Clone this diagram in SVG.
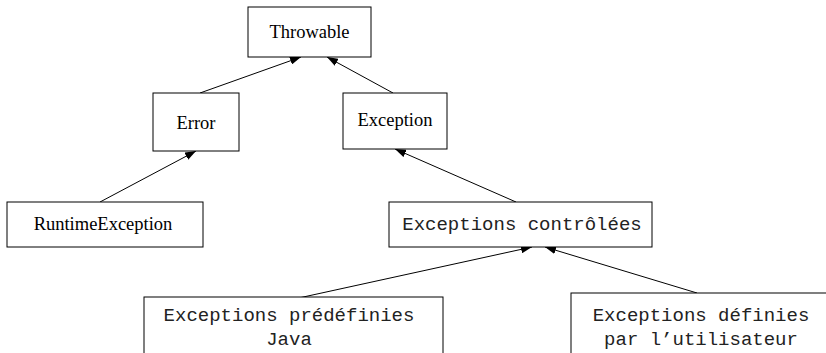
<svg xmlns="http://www.w3.org/2000/svg" width="826" height="353" viewBox="0 0 826 353">
<defs>
<marker id="arr" markerWidth="11" markerHeight="8" refX="11" refY="4" orient="auto" markerUnits="userSpaceOnUse">
<path d="M0,0 L11,4 L0,8 Z" fill="#000"/>
</marker>
<style>
.box{fill:#fff;stroke:#000;stroke-width:1}
.serif{font-family:"Liberation Serif","Times New Roman",serif;font-size:18.5px;fill:#000;text-anchor:middle}
.mono{font-family:"Liberation Mono","Courier New",monospace;font-size:19px;fill:#222;text-anchor:middle}
.edge{stroke:#000;stroke-width:1;fill:none;marker-end:url(#arr)}
</style>
</defs>
<rect width="826" height="353" fill="#fff"/>
<g id="edges">
<line class="edge" x1="200" y1="93" x2="301" y2="57"/>
<line class="edge" x1="393" y1="93" x2="327" y2="57"/>
<line class="edge" x1="100" y1="202" x2="196" y2="151"/>
<line class="edge" x1="516" y1="202" x2="395" y2="149"/>
<line class="edge" x1="285" y1="301" x2="532" y2="247"/>
<line class="edge" x1="697" y1="293" x2="545" y2="247"/>
</g>
<g id="throwable">
<rect class="box" x="248" y="7" width="123" height="50"/>
<text class="serif" x="309.5" y="38">Throwable</text>
</g>
<g id="error">
<rect class="box" x="153" y="93" width="86" height="58"/>
<text class="serif" x="196" y="129">Error</text>
</g>
<g id="exception">
<rect class="box" x="343" y="93" width="104" height="56"/>
<text class="serif" x="395" y="126">Exception</text>
</g>
<g id="runtime">
<rect class="box" x="7" y="202" width="196" height="45"/>
<text class="serif" x="103" y="230">RuntimeException</text>
</g>
<g id="controlees">
<rect class="box" x="389" y="202" width="263" height="45"/>
<text class="mono" x="522" y="230">Exceptions contrôlées</text>
</g>
<g id="predefinies">
<rect class="box" x="144" y="297" width="299" height="80"/>
<text class="mono" x="289" y="321">Exceptions prédéfinies</text>
<text class="mono" x="289" y="345">Java</text>
</g>
<g id="utilisateur">
<rect class="box" x="571" y="293" width="280" height="80"/>
<text class="mono" x="701" y="321">Exceptions définies</text>
<text class="mono" x="701" y="345">par l’utilisateur</text>
</g>
</svg>
